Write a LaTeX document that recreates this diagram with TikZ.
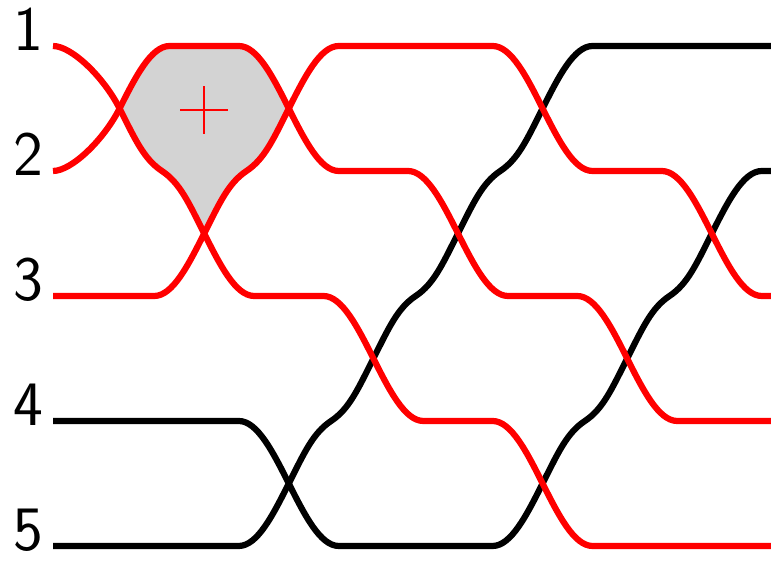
\documentclass[tikz,border=0pt]{standalone}
\usepackage{fontspec}
\usepackage{xcolor}
\usepackage{tikz}
\definecolor{chamber}{RGB}{211,211,211}

\begin{document}
\begin{tikzpicture}[x=2.538cm, y=3.75cm,
    strand/.style={line width=5.3pt},
    rowlabel/.style={anchor=base east, inner sep=0pt, font=\fontsize{54}{64}\selectfont\sffamily},
    % flat -> crossing, crossing -> flat, crossing -> shoulder, shoulder -> crossing
    fxdown/.style={to path={.. controls +(0.22,0) and +(-0.186,0.25) .. (\tikztotarget)}},
    xfdown/.style={to path={.. controls +(0.186,-0.25) and +(-0.22,0) .. (\tikztotarget)}},
    xsdown/.style={to path={.. controls +(0.186,-0.25) and +(-0.213,0.096) .. (\tikztotarget)}},
    sxdown/.style={to path={.. controls +(0.213,-0.096) and +(-0.186,0.25) .. (\tikztotarget)}},
    fxup/.style={to path={.. controls +(0.22,0) and +(-0.186,-0.25) .. (\tikztotarget)}},
    xfup/.style={to path={.. controls +(0.186,0.25) and +(-0.22,0) .. (\tikztotarget)}},
    xsup/.style={to path={.. controls +(0.186,0.25) and +(-0.213,-0.096) .. (\tikztotarget)}},
    sxup/.style={to path={.. controls +(0.213,0.096) and +(-0.186,-0.25) .. (\tikztotarget)}}]
  % Strand ends
  \pgfmathsetmacro{\xa}{0.213}
  \pgfmathsetmacro{\xb}{8.8}
  \path[use as bounding box, clip] (-0.4137,-0.136) rectangle (8.7,4.368);

  % Crossings (column / height between rows)
  \foreach \n/\x/\y in {1/1/3.5, 2/2/2.5, 3/3/3.5, 4/3/0.5, 5/4/1.5,
                        6/5/2.5, 7/6/3.5, 8/6/0.5, 9/7/1.5, 10/8/2.5}
    \coordinate (c\n) at (\x,\y);

  % Shaded chamber between strands 1, 2 and 3
  \fill[chamber] (c1) to[xsdown] (1.5,3) to[sxdown] (c2) to[xsup] (2.5,3) to[sxup] (c3)
    .. controls +(-0.186,0.25) and +(0.22,0) .. (2.409,4) -- (1.591,4)
    .. controls +(-0.22,0) and +(0.186,0.25) .. (c1) -- cycle;

  % Black strands (4 and 5)
  \draw[strand] (\xa,1) -- (2.409,1) to[fxdown] (c4) to[xfdown] (3.591,0) -- (5.409,0)
    to[fxup] (c8) to[xsup] (6.5,1) to[sxup] (c9) to[xsup] (7.5,2) to[sxup] (c10)
    to[xfup] (8.591,3) -- (\xb,3);
  \draw[strand] (\xa,0) -- (2.409,0) to[fxup] (c4) to[xsup] (3.5,1) to[sxup] (c5)
    to[xsup] (4.5,2) to[sxup] (c6) to[xsup] (5.5,3) to[sxup] (c7) to[xfup] (6.591,4)
    -- (\xb,4);

  % Red strands (1, 2 and 3)
  \draw[strand, red] (\xa,4) to[fxdown] (c1) to[xsdown] (1.5,3) to[sxdown] (c2)
    to[xfdown] (2.591,2) -- (3.409,2) to[fxdown] (c5) to[xfdown] (4.591,1) -- (5.409,1)
    to[fxdown] (c8) to[xfdown] (6.591,0) -- (\xb,0);
  \draw[strand, red] (\xa,3) to[fxup] (c1) to[xfup] (1.591,4) -- (2.409,4) to[fxdown] (c3)
    to[xfdown] (3.591,3) -- (4.409,3) to[fxdown] (c6) to[xfdown] (5.591,2) -- (6.409,2)
    to[fxdown] (c9) to[xfdown] (7.591,1) -- (\xb,1);
  \draw[strand, red] (\xa,2) -- (1.409,2) to[fxup] (c2) to[xsup] (2.5,3) to[sxup] (c3)
    to[xfup] (3.591,4) -- (5.409,4) to[fxdown] (c7) to[xfdown] (6.591,3) -- (7.409,3)
    to[fxdown] (c10) to[xfdown] (8.591,2) -- (\xb,2);

  % Sign of the chamber
  \coordinate (sign) at (1.998,3.488);
  \draw[red, line width=1.8pt] (sign) +(-0.284,0) -- +(0.284,0)
    (sign) +(0,-0.192) -- +(0,0.192);

  % Row labels
  \foreach \r in {1,...,5}
    \node[rowlabel] (lab\r) at (0.1,{5-\r-0.04}) {\r};
\end{tikzpicture}
\end{document}
